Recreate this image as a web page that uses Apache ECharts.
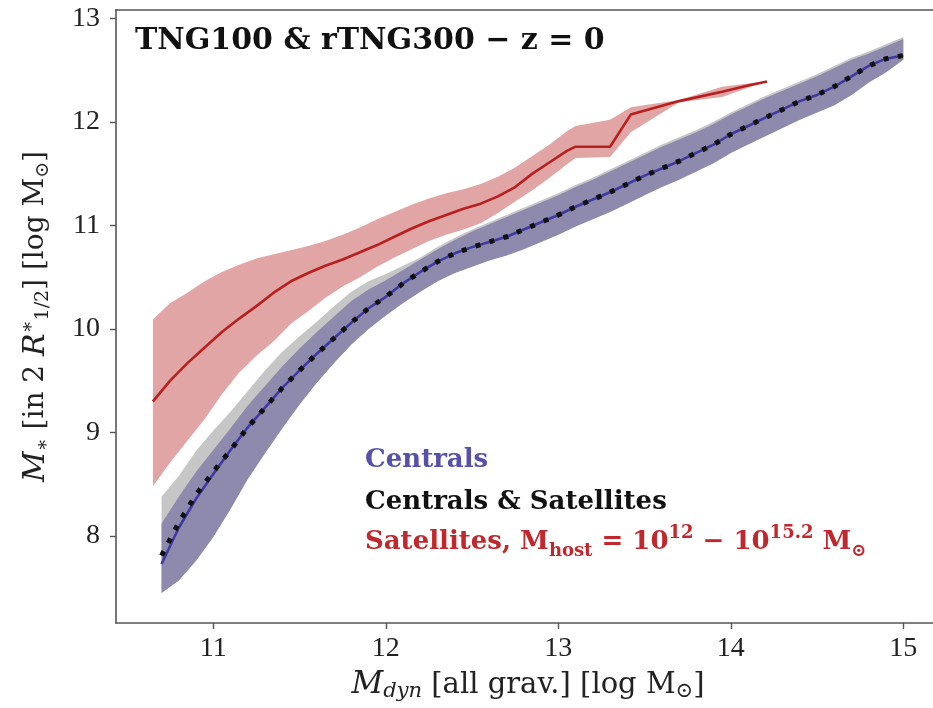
<!DOCTYPE html>
<html>
<head>
<meta charset="utf-8">
<script src="https://cdn.jsdelivr.net/npm/echarts@6/dist/echarts.min.js"></script>
<style>
html,body{margin:0;padding:0;background:#fff;overflow:hidden;}
#chart{width:933px;height:708px;}
</style>
</head>
<body>
<div id="chart"></div>
<script>
// ---- data ----
const xTicks = [11, 12, 13, 14, 15];
const yTicks = [8, 9, 10, 11, 12, 13];

// Centrals (blue) and Centrals & Satellites (black dotted / gray band)
const xCen = [10.7,10.8,10.9,11.0,11.1,11.2,11.3,11.4,11.5,11.6,11.7,11.8,11.9,12.0,12.1,12.2,12.3,12.4,12.5,12.6,12.7,12.8,12.9,13.0,13.1,13.2,13.3,13.4,13.5,13.6,13.7,13.8,13.9,14.0,14.1,14.2,14.3,14.4,14.5,14.6,14.7,14.8,14.9,15.0];
const cenMed = [7.73,8.08,8.36,8.60,8.83,9.05,9.24,9.43,9.60,9.76,9.91,10.06,10.20,10.31,10.44,10.55,10.65,10.73,10.79,10.84,10.89,10.96,11.03,11.10,11.18,11.25,11.32,11.40,11.48,11.55,11.62,11.70,11.78,11.88,11.96,12.04,12.12,12.20,12.26,12.34,12.44,12.54,12.61,12.64];
const cenHi = [8.12,8.38,8.62,8.83,9.04,9.26,9.45,9.64,9.81,9.97,10.12,10.27,10.38,10.47,10.57,10.67,10.77,10.86,10.94,11.01,11.08,11.15,11.22,11.29,11.37,11.44,11.52,11.60,11.68,11.76,11.83,11.90,11.98,12.07,12.15,12.23,12.30,12.37,12.44,12.52,12.60,12.66,12.73,12.80];
const cenLo = [7.45,7.57,7.76,7.99,8.26,8.55,8.80,9.04,9.27,9.48,9.67,9.85,10.00,10.13,10.25,10.36,10.46,10.54,10.60,10.66,10.71,10.77,10.84,10.91,10.99,11.06,11.13,11.21,11.29,11.37,11.44,11.52,11.60,11.70,11.78,11.86,11.94,12.02,12.09,12.16,12.26,12.38,12.48,12.60];
const allMed = [7.81,8.13,8.40,8.62,8.83,9.05,9.24,9.43,9.60,9.76,9.91,10.06,10.20,10.31,10.44,10.55,10.65,10.73,10.79,10.84,10.89,10.96,11.03,11.10,11.18,11.25,11.32,11.40,11.48,11.55,11.62,11.70,11.78,11.88,11.96,12.04,12.12,12.20,12.26,12.34,12.44,12.54,12.61,12.64];
const allHi = [8.38,8.58,8.82,9.02,9.20,9.40,9.60,9.78,9.93,10.07,10.22,10.36,10.46,10.53,10.61,10.69,10.79,10.88,10.96,11.03,11.10,11.17,11.24,11.31,11.39,11.46,11.54,11.62,11.70,11.78,11.85,11.92,12.00,12.09,12.17,12.25,12.32,12.39,12.46,12.54,12.62,12.68,12.75,12.82];
const allLo = [7.45,7.57,7.76,7.99,8.26,8.55,8.80,9.04,9.27,9.48,9.67,9.85,10.00,10.13,10.25,10.36,10.46,10.54,10.60,10.66,10.71,10.77,10.84,10.91,10.99,11.06,11.13,11.21,11.29,11.37,11.44,11.52,11.60,11.70,11.78,11.86,11.94,12.02,12.09,12.16,12.26,12.38,12.48,12.60];

// Satellites (red)
const xSat = [10.65,10.75,10.85,10.95,11.05,11.15,11.25,11.35,11.45,11.55,11.65,11.75,11.85,11.95,12.05,12.15,12.25,12.35,12.45,12.55,12.65,12.75,12.85,12.95,13.05,13.1,13.3,13.42,13.7,13.95,14.1,14.21];
const satMed = [9.30,9.50,9.67,9.82,9.97,10.10,10.22,10.35,10.46,10.54,10.61,10.67,10.74,10.81,10.89,10.97,11.04,11.10,11.16,11.21,11.28,11.37,11.50,11.61,11.72,11.76,11.76,12.07,12.20,12.29,12.35,12.39];
const satHi = [10.09,10.25,10.35,10.46,10.55,10.62,10.68,10.72,10.76,10.80,10.85,10.91,10.98,11.06,11.13,11.20,11.26,11.31,11.35,11.40,11.47,11.56,11.67,11.78,11.91,11.96,12.02,12.14,12.21,12.34,12.37,12.39];
const satLo = [8.48,8.71,8.92,9.13,9.37,9.58,9.74,9.88,10.05,10.17,10.30,10.41,10.50,10.60,10.69,10.77,10.85,10.91,10.96,11.02,11.12,11.23,11.34,11.46,11.59,11.65,11.66,11.90,12.19,12.24,12.33,12.39];

// ---- helpers ----
function zip(xs, ys) { return xs.map((x, i) => [x, ys[i]]); }
function band(xs, lo, hi, color, z) {
  return {
    type: 'custom', z: z, silent: true, animation: false, clip: false,
    data: [[xs[0], lo[0]]],
    renderItem: function (params, api) {
      const pts = [];
      for (let i = 0; i < xs.length; i++) pts.push(api.coord([xs[i], hi[i]]));
      for (let i = xs.length - 1; i >= 0; i--) pts.push(api.coord([xs[i], lo[i]]));
      return { type: 'polygon', shape: { points: pts }, style: { fill: color } };
    }
  };
}

const serif = '"Liberation Serif", "DejaVu Serif", serif';
const dserif = '"DejaVu Serif", serif';
const axisCol = '#555';

const chart = echarts.init(document.getElementById('chart'));
chart.setOption({
  animation: false,
  backgroundColor: '#fff',
  grid: { left: 116, top: 10, width: 860, height: 613, outerBoundsMode: 'none', containLabel: false, show: false },
  xAxis: {
    type: 'value', min: 10.436, max: 15.4215,
    axisLine: { show: true, onZero: false, lineStyle: { color: axisCol, width: 1.6 } },
    axisTick: { show: true, length: 6, lineStyle: { color: axisCol, width: 1.4 }, customValues: xTicks },
    axisLabel: { customValues: xTicks, margin: 12, color: '#222', fontFamily: serif, fontSize: 28 },
    splitLine: { show: false },
    name: '{it|M}{sub|dyn} [all grav.] [log M{sub2|⊙}]',
    nameLocation: 'middle', nameGap: 45,
    nameTextStyle: {
      color: '#222', fontFamily: dserif, fontSize: 29, padding: [0, 36, 0, 0],
      rich: {
        it: { fontFamily: dserif, fontStyle: 'italic', fontSize: 31, color: '#222', lineHeight: 34 },
        sub: { fontFamily: dserif, fontStyle: 'italic', fontSize: 21, color: '#222', verticalAlign: 'bottom', lineHeight: 22 },
        sub2: { fontFamily: dserif, fontSize: 21, color: '#222', verticalAlign: 'bottom', lineHeight: 22 }
      }
    }
  },
  yAxis: {
    type: 'value', min: 7.16, max: 13.08,
    axisLine: { show: true, onZero: false, lineStyle: { color: axisCol, width: 1.6 } },
    axisTick: { show: true, length: 6, lineStyle: { color: axisCol, width: 1.4 }, customValues: yTicks },
    axisLabel: { customValues: yTicks, margin: 16, color: '#222', fontFamily: serif, fontSize: 28 },
    splitLine: { show: false },
    name: '{it|M}{sub|∗} [in 2 {it|R}{sup|∗}{sub|1/2}] [log M{sub|⊙}]',
    nameLocation: 'middle', nameGap: 63, nameRotate: 90,
    nameTextStyle: {
      color: '#222', fontFamily: dserif, fontSize: 28,
      rich: {
        it: { fontFamily: dserif, fontStyle: 'italic', fontSize: 30, color: '#222', lineHeight: 34 },
        sub: { fontFamily: dserif, fontSize: 19, color: '#222', verticalAlign: 'bottom', lineHeight: 22 },
        sup: { fontFamily: dserif, fontSize: 19, color: '#222', verticalAlign: 'top', lineHeight: 22 }
      }
    }
  },
  graphic: [
    { type: 'line', z: 50, silent: true,
      shape: { x1: 115.2, y1: 10, x2: 933, y2: 10 },
      style: { stroke: axisCol, lineWidth: 1.6 } },
    { type: 'text', left: 135, top: 26, z: 100,
      style: { text: 'TNG100 & rTNG300 − z = 0', font: 'bold 30px ' + dserif, fill: '#111' } },
    { type: 'text', left: 365, top: 447, z: 100,
      style: { text: 'Centrals', font: 'bold 26px ' + dserif, fill: '#5650a8' } },
    { type: 'text', left: 365, top: 489, z: 100,
      style: { text: 'Centrals & Satellites', font: 'bold 26px ' + dserif, fill: '#111' } },
    { type: 'text', left: 365, top: 524, z: 100,
      style: {
        text: '{m|Satellites, M}{sub|host}{m| = 10}{sup|12}{m| − 10}{sup|15.2}{m| M}{sub|⊙}',
        rich: {
          m: { font: 'bold 26px ' + dserif, fill: '#c0282d', lineHeight: 36 },
          sub: { font: 'bold 18px ' + dserif, fill: '#c0282d', verticalAlign: 'bottom', lineHeight: 20 },
          sup: { font: 'bold 18px ' + dserif, fill: '#c0282d', verticalAlign: 'top', lineHeight: 20 }
        }
      } }
  ],
  series: [
    band(xCen, allLo, allHi, '#c6c6c6', 1),
    band(xCen, cenLo, cenHi, '#8e8aae', 2),
    band(xSat, satLo, satHi, '#e1a5a5', 3),
    { type: 'line', z: 5, data: zip(xCen, cenMed), showSymbol: false, symbol: 'none',
      lineStyle: { color: '#4039a0', width: 2.6 } },
    { type: 'line', z: 6, data: zip(xCen, allMed), showSymbol: false, symbol: 'none',
      lineStyle: { color: '#111', width: 5, type: [5, 9.5], cap: 'butt' } },
    { type: 'line', z: 7, data: zip(xSat, satMed), showSymbol: false, symbol: 'none',
      lineStyle: { color: '#b8201f', width: 2.6 } }
  ]
});
</script>
</body>
</html>
